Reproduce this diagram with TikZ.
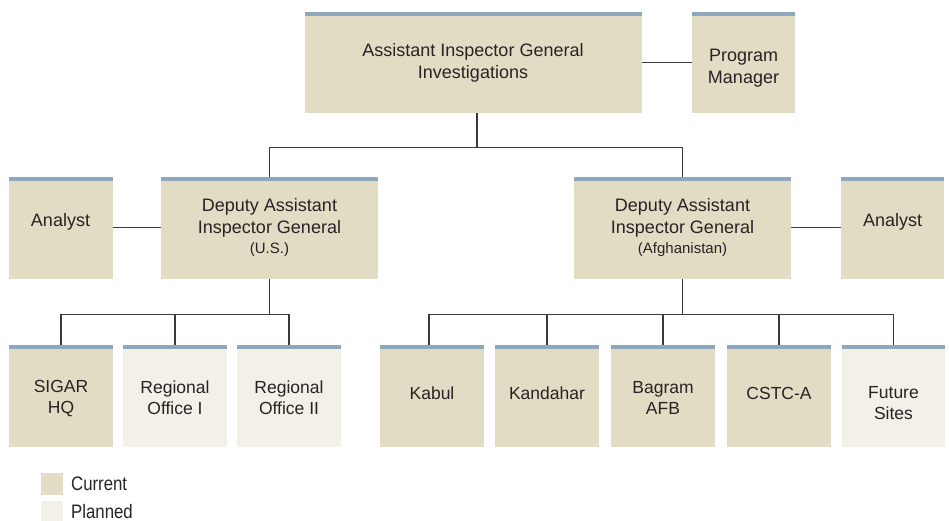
\documentclass[tikz,border=0pt]{standalone}
\usepackage{fontspec}
\setmainfont{Liberation Sans}
\newfontfamily\legendfont[FakeStretch=0.86]{Liberation Sans}
\definecolor{curfill}{HTML}{E3DCC4}
\definecolor{planfill}{HTML}{F3F0E7}
\definecolor{barcol}{HTML}{8EA7BA}
\definecolor{txtcol}{HTML}{262324}
\definecolor{linecol}{HTML}{3A3A3A}
\tikzset{
  orgbox/.style={draw=none, fill=curfill, inner sep=0pt, outer sep=0pt, anchor=north west,
    path picture={\fill[barcol] (path picture bounding box.north west) rectangle ([yshift=-4pt]path picture bounding box.north east);}},
  planbox/.style={orgbox, fill=planfill},
  lbl/.style={text=txtcol, align=center, inner sep=0pt, font=\fontsize{18}{22}\selectfont},
  lblb/.style={lbl, font=\fontsize{17.5}{21}\selectfont},
  lbls/.style={text=txtcol, inner sep=0pt, anchor=base, font=\fontsize{15}{18}\selectfont},
  legtxt/.style={text=txtcol, inner sep=0pt, anchor=base west, font=\legendfont\fontsize{19.5}{22}\selectfont},
  conn/.style={draw=linecol, line width=1.3pt}
}
\begin{document}
\begin{tikzpicture}[x=1pt,y=-1pt]
\useasboundingbox (0,0) rectangle (949,521);
% top tier
\node[orgbox, minimum width=337pt, minimum height=101pt] (aig) at (305,12) {};
\node[orgbox, minimum width=103pt, minimum height=101pt] (pm) at (692,12) {};
% second tier
\node[orgbox, minimum width=104pt, minimum height=101.5pt] (anl) at (9,177) {};
\node[orgbox, minimum width=217pt, minimum height=101.5pt] (daigus) at (161,177) {};
\node[orgbox, minimum width=217pt, minimum height=101.5pt] (daigaf) at (574,177) {};
\node[orgbox, minimum width=103pt, minimum height=101.5pt] (anr) at (841,177) {};
% bottom tier
\node[orgbox, minimum width=104pt, minimum height=102pt] (sigar) at (9,345) {};
\node[planbox, minimum width=104pt, minimum height=102pt] (reg1) at (123,345) {};
\node[planbox, minimum width=104pt, minimum height=102pt] (reg2) at (237,345) {};
\node[orgbox, minimum width=104pt, minimum height=102pt] (kabul) at (380,345) {};
\node[orgbox, minimum width=104pt, minimum height=102pt] (kand) at (495,345) {};
\node[orgbox, minimum width=104pt, minimum height=102pt] (bagram) at (611,345) {};
\node[orgbox, minimum width=104pt, minimum height=102pt] (cstc) at (727,345) {};
\node[planbox, minimum width=103pt, minimum height=102pt] (future) at (842,345) {};
% texts
\node[lbl] (aigt) at (473,62.4) {Assistant Inspector General\\Investigations};
\node[lbl] (pmt) at (743.5,68) {Program\\Manager};
\node[lbl, anchor=base] (anlt) at (60.5,226) {Analyst};
\node[lbl, anchor=base] (anrt) at (892.5,226) {Analyst};
\node[lbl] (daigust) at (269.5,217.4) {Deputy Assistant\\Inspector General};
\node[lbls] (ust) at (269.5,253) {(U.S.)};
\node[lbl] (daigaft) at (682.5,217.4) {Deputy Assistant\\Inspector General};
\node[lbls] (aft) at (682.5,253) {(Afghanistan)};
\node[lblb] (sigart) at (61,398.7) {SIGAR\\HQ};
\node[lblb] (reg1t) at (175,398.2) {Regional\\Office I};
\node[lblb] (reg2t) at (289,398.2) {Regional\\Office II};
\node[lblb, anchor=base] (kabult) at (432,399.3) {Kabul};
\node[lblb, anchor=base] (kandt) at (547,399.3) {Kandahar};
\node[lblb] (bagramt) at (663,398.2) {Bagram\\AFB};
\node[lblb, anchor=base] (cstct) at (779,399.3) {CSTC-A};
\node[lblb] (futuret) at (893.5,403.4) {Future\\Sites};
% connectors
\draw[conn] (aig.east) -- (pm.west);
\coordinate (j1) at (477,147.3);
\draw[conn] (aig.south -| j1) -- (j1);
\draw[conn] (daigus.north) |- (j1) -| (daigaf.north);
\draw[conn] (anl.east) -- (daigus.west);
\draw[conn] (daigaf.east) -- (anr.west);
\coordinate (j2) at (269.5,314.5);
\draw[conn] (daigus.south) -- (j2);
\draw[conn] (sigar.north) |- (j2) -| (reg2.north);
\draw[conn] (reg1.north) -- (reg1.north |- j2);
\coordinate (j3) at (682.5,314.5);
\coordinate (kabtop) at ([xshift=-3pt]kabul.north);
\draw[conn] (daigaf.south) -- (j3);
\draw[conn] (kabtop) |- (j3) -| (future.north);
\draw[conn] (kand.north) -- (kand.north |- j3);
\draw[conn] (bagram.north) -- (bagram.north |- j3);
\draw[conn] (cstc.north) -- (cstc.north |- j3);
% legend
\node[draw=none, fill=curfill, inner sep=0pt, anchor=north west, minimum width=22pt, minimum height=22pt] (legcur) at (41,473) {};
\node[draw=none, fill=planfill, inner sep=0pt, anchor=north west, minimum width=22pt, minimum height=22pt] (legplan) at (41,501) {};
\node[legtxt] (legcurt) at (71,490.7) {Current};
\node[legtxt] (legplant) at (71,518) {Planned};
\end{tikzpicture}
\end{document}
